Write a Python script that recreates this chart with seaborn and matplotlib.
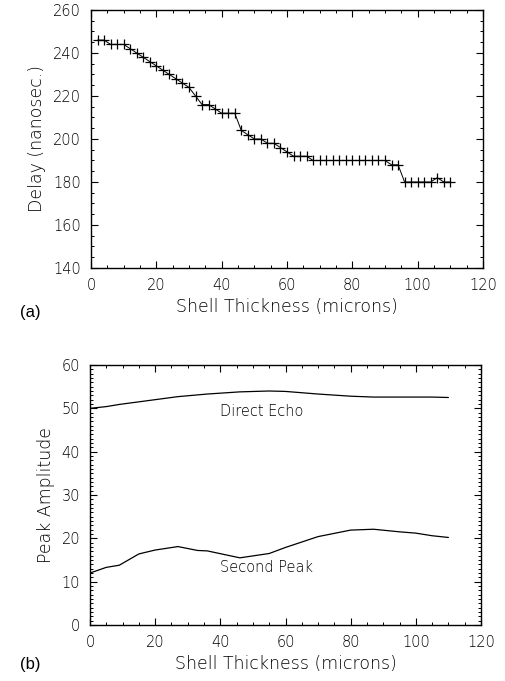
import numpy as np
import pandas as pd
import matplotlib
matplotlib.use("Agg")
import matplotlib.pyplot as plt
import seaborn as sns
from matplotlib.ticker import MultipleLocator

# panel (a): delay vs shell thickness
thick_a = [2, 4, 6, 8, 10, 12, 14, 16, 18, 20, 22, 24, 26, 28, 30, 32, 34, 36, 38, 40,
           42, 44, 46, 48, 50, 52, 54, 56, 58, 60, 62, 64, 66, 68, 70, 72, 74, 76, 78, 80,
           82, 84, 86, 88, 90, 92, 94, 96, 98, 100, 102, 104, 106, 108, 110]
delay = [246, 246, 244, 244, 244, 242, 240, 238, 236, 234, 232, 230, 228, 226, 224, 220, 216, 216, 214, 212,
         212, 212, 204, 202, 200, 200, 198, 198, 196, 194, 192, 192, 192, 190, 190, 190, 190, 190, 190, 190,
         190, 190, 190, 190, 190, 188, 188, 180, 180, 180, 180, 180, 182, 180, 180]

# panel (b): peak amplitudes
thick_b = [0, 5, 9, 15, 20, 27, 33, 36, 46, 55, 60, 70, 80, 87, 95, 100, 105, 110]
direct_echo = [50.0, 50.4, 50.9, 51.5, 52.0, 52.7, 53.1, 53.3, 53.8, 54.0, 53.9, 53.3, 52.8, 52.6, 52.6, 52.6, 52.6, 52.5]
second_peak = [12.0, 13.3, 13.8, 16.4, 17.3, 18.1, 17.2, 17.1, 15.5, 16.5, 17.9, 20.4, 21.9, 22.1, 21.5, 21.2, 20.6, 20.2]

df_a = pd.DataFrame({"x": thick_a, "y": delay})
df_b = pd.DataFrame({"x": thick_b, "direct": direct_echo, "second": second_peak})

sns.set_style("ticks")
plt.rcParams['font.family'] = ['DejaVu Sans']
plt.rcParams['font.weight'] = 'light'
plt.rcParams['axes.labelweight'] = 'light'
plt.rcParams['text.color'] = 'black'
plt.rcParams['axes.labelcolor'] = 'black'
plt.rcParams['xtick.color'] = 'black'
plt.rcParams['ytick.color'] = 'black'
plt.rcParams['axes.edgecolor'] = 'black'

fig = plt.figure(figsize=(5.05, 6.81), dpi=100)
ax1 = fig.add_axes([91/505, 1 - 268/681, 392/505, 258/681])
ax2 = fig.add_axes([90/505, 1 - 625/681, 391/505, 260/681])

sns.lineplot(data=df_a, x="x", y="y", ax=ax1, color="black", linewidth=0.7,
             marker="+", markersize=6.5, markeredgewidth=0.9, markeredgecolor="black")
ax1.set_xlim(0, 120)
ax1.set_ylim(140, 260)
ax1.xaxis.set_major_locator(MultipleLocator(20))
ax1.xaxis.set_minor_locator(MultipleLocator(5))
ax1.yaxis.set_major_locator(MultipleLocator(20))
ax1.yaxis.set_minor_locator(MultipleLocator(5))
ax1.set_xlabel("Shell Thickness (microns)", fontsize=12.5)
ax1.set_ylabel("Delay (nanosec.)", fontsize=12.5)

sns.lineplot(data=df_b, x="x", y="direct", ax=ax2, color="black", linewidth=0.9)
sns.lineplot(data=df_b, x="x", y="second", ax=ax2, color="black", linewidth=0.9)
ax2.set_xlim(0, 120)
ax2.set_ylim(0, 60)
ax2.xaxis.set_major_locator(MultipleLocator(20))
ax2.xaxis.set_minor_locator(MultipleLocator(5))
ax2.yaxis.set_major_locator(MultipleLocator(10))
ax2.yaxis.set_minor_locator(MultipleLocator(1))
ax2.set_xlabel("Shell Thickness (microns)", fontsize=12.5)
ax2.set_ylabel("Peak Amplitude", fontsize=12.5)
ax2.text(40, 49.3, "Direct Echo", fontsize=10.5, va="center", ha="left")
ax2.text(40, 13.2, "Second Peak", fontsize=10.5, va="center", ha="left")

for ax in (ax1, ax2):
    for s in ax.spines.values():
        s.set_visible(True)
        s.set_linewidth(1.0)
    ax.tick_params(which="both", direction="in", top=True, right=True, labelsize=10.5, pad=7)
    ax.tick_params(which="major", length=5, width=0.8)
    ax.tick_params(which="minor", length=2.5, width=0.7)
    ax.xaxis.labelpad = 4
    ax.yaxis.labelpad = 5

fig.text(20/505, 1 - 313/681, "(a)", fontsize=12, va="center", ha="left",
         family="Liberation Sans", weight="normal")
fig.text(20/505, 1 - 665/681, "(b)", fontsize=12, va="center", ha="left",
         family="Liberation Sans", weight="normal")

fig.savefig("out.png", dpi=100)
